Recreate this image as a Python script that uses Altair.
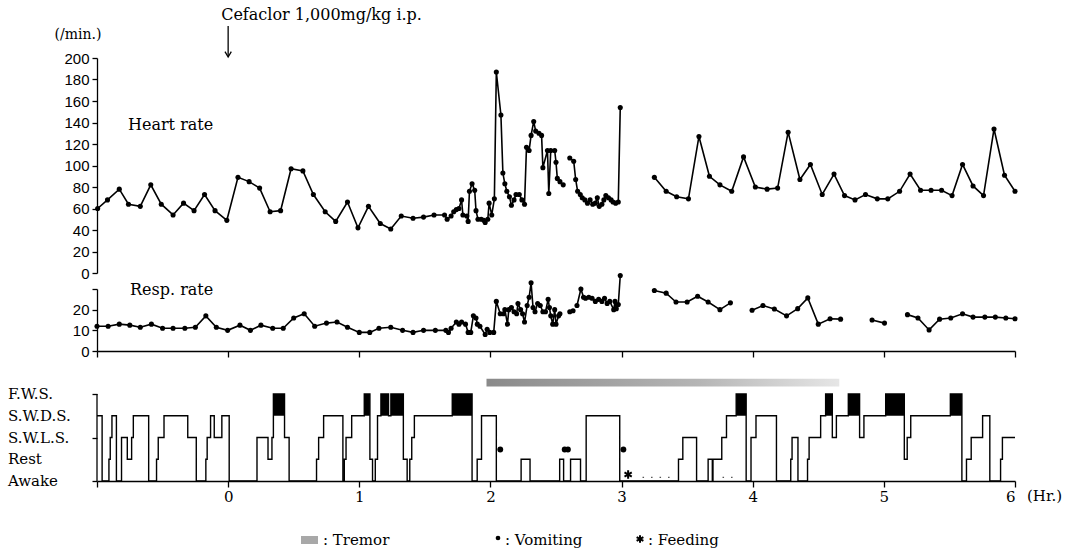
import altair as alt
import pandas as pd

SERIF = "DejaVu Serif"
SANS = "Liberation Sans"

# ---------------- data (hours after Cefaclor injection) ----------------
# Heart rate (/min.)
hr_t_1 = [-0.995, -0.92, -0.83, -0.76, -0.67, -0.59, -0.51, -0.42, -0.34, -0.26, -0.18, -0.10,
          -0.01, 0.075, 0.16, 0.24, 0.32, 0.40, 0.48, 0.57, 0.65, 0.74, 0.82, 0.91, 0.99, 1.07,
          1.16, 1.24, 1.32, 1.41, 1.49, 1.57, 1.65, 1.67, 1.70, 1.72, 1.74, 1.76, 1.78, 1.79,
          1.82, 1.83, 1.84, 1.86, 1.88, 1.89, 1.905, 1.93, 1.95, 1.96, 1.98, 1.99, 2.01, 2.03,
          2.045, 2.08, 2.095, 2.11, 2.125, 2.145, 2.16, 2.18, 2.195, 2.22, 2.24, 2.26, 2.275,
          2.295, 2.31, 2.33, 2.345, 2.37, 2.39, 2.40, 2.435, 2.445, 2.46, 2.49, 2.50, 2.51,
          2.53, 2.555]
hr_v_1 = [60, 68, 78, 64, 62, 82, 64, 54, 65, 58, 73, 58,
          49, 89, 85, 79, 57, 58, 97, 95, 73, 57, 48, 66, 42, 62,
          46, 41, 53, 51, 52, 54, 54, 50, 53, 57, 59, 60, 68, 54,
          53, 48, 76, 83, 77, 58, 50, 50, 49, 47, 50, 65, 54, 69,
          187, 147, 93, 83, 76, 71, 63, 68, 73, 73, 68, 64, 117,
          114, 128, 141, 132, 130, 128, 98, 114, 74, 114, 114, 103, 88,
          85, 82]
hr_t_2 = [2.605, 2.635, 2.65, 2.665, 2.685, 2.70, 2.72, 2.74, 2.76, 2.78, 2.80, 2.815,
          2.83, 2.85, 2.865, 2.88, 2.90, 2.92, 2.935, 2.955, 2.975, 2.99]
hr_v_2 = [107, 104, 87, 76, 73, 70, 68, 65, 68, 64, 65, 70,
          62, 64, 68, 72, 70, 68, 66, 65, 66, 154]
hr_t_3 = [3.25, 3.34, 3.42, 3.51, 3.59, 3.67, 3.75, 3.84, 3.93, 4.02, 4.11, 4.19, 4.27,
          4.36, 4.44, 4.53, 4.62, 4.70, 4.78, 4.86, 4.95, 5.03, 5.12, 5.20, 5.28, 5.36,
          5.44, 5.52, 5.60, 5.68, 5.76, 5.84, 5.92, 6.0]
hr_v_3 = [89, 76, 71, 69, 127, 90, 82, 76, 108, 80, 78, 79, 131,
          87, 101, 73, 92, 72, 68, 73, 69, 69, 76, 92, 77, 77,
          77, 72, 101, 81, 72, 134, 91, 76]

# Respiration rate (/min.)
rr_t_1 = [-1.0, -0.915, -0.83, -0.75, -0.67, -0.585, -0.50, -0.42, -0.33, -0.25, -0.17, -0.09,
          -0.004, 0.09, 0.17, 0.25, 0.34, 0.42, 0.50, 0.58, 0.66, 0.75, 0.83, 0.91, 1.0, 1.08,
          1.15, 1.24, 1.33, 1.41, 1.49, 1.58, 1.66, 1.68, 1.70, 1.74, 1.76, 1.78, 1.81, 1.83,
          1.85, 1.87, 1.89, 1.90, 1.92, 1.96, 1.975, 1.995, 2.025, 2.045, 2.075, 2.10, 2.11,
          2.13, 2.14, 2.16, 2.18, 2.20, 2.21, 2.23, 2.245, 2.26, 2.28, 2.295, 2.31, 2.325,
          2.34, 2.36, 2.38, 2.40, 2.42, 2.44, 2.45, 2.46, 2.475, 2.49, 2.50, 2.52, 2.53]
rr_v_1 = [12, 12, 13, 12.5, 11.5, 13, 11, 11, 11, 11.5, 17, 11.5,
          10, 12.5, 10, 12.5, 11, 11, 16, 18, 12, 13.5, 14, 11.5, 9, 9,
          11, 11.5, 10, 9, 10, 10, 10, 9, 11, 14, 13, 14, 13, 9,
          9, 17, 16, 13, 12, 8, 10.5, 9, 9, 24, 18, 18, 20,
          13, 20, 21, 19, 18, 23, 20, 18, 14, 22, 26, 33, 21,
          19, 23, 22, 19, 19, 25, 21, 17, 13, 20, 13, 17, 18]
rr_t_2 = [2.605, 2.63]
rr_v_2 = [19, 19.5]
rr_t_3 = [2.66, 2.69, 2.71, 2.725, 2.75, 2.775, 2.80, 2.825, 2.85, 2.87, 2.89, 2.91, 2.94,
          2.95, 2.96, 2.975, 2.99]
rr_v_3 = [22, 30, 26, 25.5, 26, 25.5, 24, 25, 24, 25.5, 23, 24, 20,
          24, 20.5, 22.5, 36.5]
rr_t_4 = [3.25, 3.34, 3.415, 3.50, 3.58, 3.66, 3.75, 3.83]
rr_v_4 = [29.3, 28, 23.7, 23.7, 26.5, 23.7, 20, 23.3]
rr_t_5 = [3.995, 4.078, 4.165, 4.258, 4.343, 4.42, 4.50, 4.59, 4.67]
rr_v_5 = [19.7, 22, 20.3, 17, 20.5, 25.7, 13, 15.6, 15.4]
rr_t_6 = [4.91, 5.005]
rr_v_6 = [15, 13.5]
rr_t_7 = [5.18, 5.26, 5.345, 5.425, 5.51, 5.60, 5.68, 5.77, 5.85, 5.93, 6.0]
rr_v_7 = [17.6, 16, 10.2, 15.4, 16, 18, 16.4, 16.4, 16.4, 16, 15.6]

# Sleep-wake stage: 0 Awake, 1 Rest, 2 S.W.L.S., 3 S.W.D.S., 4 F.W.S.
stage_names = ["Awake", "Rest", "S.W.L.S.", "S.W.D.S.", "F.W.S."]
stage_levels = [0, 1, 2, 3, 4]
stage_t = [-1.0, -0.961, -0.909, -0.899, -0.886, -0.852, -0.813, -0.769, -0.736, -0.723,
           -0.606, -0.546, -0.533, -0.489, -0.308, -0.243, -0.170, -0.160, -0.134, -0.106,
           -0.048, 0.008, 0.220, 0.304, 0.334, 0.345, 0.430, 0.465, 0.674, 0.690,
           0.728, 0.875, 0.886, 0.899, 0.942, 1.038, 1.081, 1.101, 1.122, 1.139,
           1.165, 1.223, 1.241, 1.336, 1.365, 1.385, 1.400, 1.420, 1.709, 1.860,
           1.899, 1.932, 2.045, 2.234, 2.302, 2.528, 2.558, 2.611, 2.687, 2.730,
           2.986, 3.434, 3.467, 3.572, 3.660, 3.692, 3.697, 3.764, 3.800, 3.874,
           3.950, 3.987, 4.025, 4.181, 4.290, 4.300, 4.345, 4.418, 4.430, 4.518,
           4.556, 4.607, 4.638, 4.729, 4.815, 4.848, 5.014, 5.156, 5.178, 5.205,
           5.507, 5.595, 5.630, 5.666, 5.753, 5.808, 5.890, 5.904, 6.0]
stage_lv = [3, 0, 1, 2, 3, 0, 2, 1, 2, 3,
            0, 1, 2, 3, 2, 0, 1, 2, 3, 2,
            3, 0, 2, 1, 2, 4, 2, 0, 1, 2,
            3, 0, 1, 2, 3, 4, 1, 0, 1, 3,
            4, 3, 4, 1, 0, 1, 2, 3, 4, 0,
            1, 3, 0, 1, 0, 1, 0, 1, 0, 3,
            0, 1, 2, 0, 1, 0, 1, 2, 3, 4,
            0, 2, 3, 0, 1, 2, 0, 1, 2, 3,
            4, 2, 3, 4, 2, 3, 4, 1, 2, 3,
            4, 0, 1, 2, 3, 0, 1, 2, 2]

vomit_t = [2.075, 2.566, 2.591, 3.014]
vomit_lv = [1.45, 1.45, 1.45, 1.45]
feed_t = [3.05]
feed_lv = [0.3]
feed_dot_start = [3.16, 3.77]
feed_dot_end = [3.40, 3.89]
tremor_start = [1.97]
tremor_end = [4.66]

# ---------------- frames ----------------
def segments(parts):
    rows = []
    for i, (ts, vs) in enumerate(parts):
        for t, v in zip(ts, vs):
            rows.append({"t": t, "v": v, "seg": i})
    return pd.DataFrame(rows)

hr_df = segments([(hr_t_1, hr_v_1), (hr_t_2, hr_v_2), (hr_t_3, hr_v_3)])
rr_df = segments([(rr_t_1, rr_v_1), (rr_t_2, rr_v_2), (rr_t_3, rr_v_3), (rr_t_4, rr_v_4),
                  (rr_t_5, rr_v_5), (rr_t_6, rr_v_6), (rr_t_7, rr_v_7)])
st_df = pd.DataFrame({"t": stage_t, "lv": stage_lv})
names_df = pd.DataFrame({"lv": stage_levels, "name": stage_names})
fws_df = pd.DataFrame([{"s": stage_t[i], "e": stage_t[i + 1]}
                       for i in range(len(stage_t) - 1) if stage_lv[i] == 4])
vom_df = pd.DataFrame({"t": vomit_t, "lv": vomit_lv})
feed_df = pd.DataFrame({"t": feed_t, "lv": feed_lv})
fdot_df = pd.DataFrame({"s": feed_dot_start, "e": feed_dot_end})
trem_df = pd.DataFrame({"s": tremor_start, "e": tremor_end})

W = 918
H_HR, H_RR, H_ST = 215, 62, 114
ST_MAX = H_ST / 21.75
X_SCALE = alt.Scale(domain=[-1, 6], nice=False, zero=False)
ASTERISK = "M0,-1L0,1M-0.87,-0.5L0.87,0.5M-0.87,0.5L0.87,-0.5"
TREMOR_FILL = alt.LinearGradient(
    gradient="linear", x1=0, x2=1, y1=0, y2=0,
    stops=[alt.GradientStop(color="#8a8a8a", offset=0),
           alt.GradientStop(color="#b5b5b5", offset=0.6),
           alt.GradientStop(color="#e6e6e6", offset=1)])

one = pd.DataFrame({"k": [0]})

def y_axis(values, **kw):
    base = dict(title=None, values=values, tickSize=5, tickColor="black", domainColor="black",
                labelColor="black", labelFont=SANS, labelFontSize=15, labelPadding=3,
                domainWidth=1.3, tickWidth=1.3, grid=False, labelOverlap=False)
    base.update(kw)
    return alt.Axis(**base)

# ---------------- heart rate panel ----------------
hr_base = alt.Chart(hr_df).encode(
    x=alt.X("t:Q", scale=X_SCALE, axis=None),
    y=alt.Y("v:Q", scale=alt.Scale(domain=[0, 200], nice=False),
            axis=y_axis(list(range(0, 201, 20)))))
hr_line = hr_base.mark_line(color="black", strokeWidth=1.6).encode(detail="seg:N")
hr_pts = hr_base.mark_circle(color="black", size=26, opacity=1)

title_txt = alt.Chart(one).mark_text(text="Cefaclor 1,000mg/kg i.p.", font=SERIF, fontSize=16,
                                     align="left", baseline="middle", dx=-7).encode(
    x=alt.X(datum=0, scale=X_SCALE), y=alt.value(-43))
arrow_shaft = alt.Chart(one).mark_rule(color="black", strokeWidth=1.3).encode(
    x=alt.X(datum=0, scale=X_SCALE), y=alt.value(-32), y2=alt.value(-2))
arrow_head = alt.Chart(one).mark_point(shape="M-1,-1.7L0,0L1,-1.7", filled=False, color="black",
                                       strokeWidth=1.3, size=40, opacity=1).encode(
    x=alt.X(datum=0, scale=X_SCALE), y=alt.value(-1))
unit_txt = alt.Chart(one).mark_text(text="(/min.)", font=SERIF, fontSize=14, align="center",
                                    baseline="middle").encode(x=alt.value(-19), y=alt.value(-23))
hr_lab = alt.Chart(one).mark_text(text="Heart rate", font=SERIF, fontSize=16, align="left",
                                  baseline="middle").encode(x=alt.value(31), y=alt.value(67))

heart = alt.layer(hr_line, hr_pts, title_txt, arrow_shaft, arrow_head, unit_txt, hr_lab).properties(
    width=W, height=H_HR)

# ---------------- respiration panel ----------------
rr_base = alt.Chart(rr_df).encode(
    x=alt.X("t:Q", scale=X_SCALE,
            axis=alt.Axis(title=None, values=list(range(-1, 7)), labels=False, tickSize=6,
                          tickColor="black", domainColor="black", domainWidth=1.3,
                          tickWidth=1.3, grid=False)),
    y=alt.Y("v:Q", scale=alt.Scale(domain=[0, 30], nice=False),
            axis=y_axis([0, 10, 20, 30], labelExpr="datum.value == 30 ? '' : datum.label")))
rr_line = rr_base.mark_line(color="black", strokeWidth=1.6).encode(detail="seg:N")
rr_pts = rr_base.mark_circle(color="black", size=26, opacity=1)
rr_lab = alt.Chart(one).mark_text(text="Resp. rate", font=SERIF, fontSize=16, align="left",
                                  baseline="middle").encode(x=alt.value(33), y=alt.value(1))
resp = alt.layer(rr_line, rr_pts, rr_lab).properties(width=W, height=H_RR)

# ---------------- sleep stage panel ----------------
ST_SCALE = alt.Scale(domain=[0, ST_MAX], nice=False, zero=True)
st_line = alt.Chart(st_df).mark_line(interpolate="step-after", color="black",
                                     strokeWidth=1.4).encode(
    x=alt.X("t:Q", scale=X_SCALE,
            axis=alt.Axis(title=None, values=list(range(-1, 7)), tickSize=6, tickColor="black",
                          domainColor="black", domainWidth=1.3, tickWidth=1.3,
                          labelColor="black", labelFont=SERIF, labelFontSize=15,
                          labelPadding=2, grid=False, labelOverlap=False,
                          labelExpr="datum.value < 0 ? '' : format(datum.value, 'd')")),
    y=alt.Y("lv:Q", scale=ST_SCALE,
            axis=alt.Axis(title=None, values=stage_levels, tickSize=5, tickColor="black",
                          tickWidth=1.3, domain=False, grid=False, labels=False)))
st_names = alt.Chart(names_df).mark_text(font=SERIF, fontSize=15, align="left",
                                         baseline="middle", color="black").encode(
    x=alt.value(-89), y=alt.Y("lv:Q", scale=ST_SCALE), text="name:N")
st_axis = alt.Chart(one).mark_rule(color="black", strokeWidth=1.3).encode(
    x=alt.value(0), y=alt.Y(datum=0, scale=ST_SCALE), y2=alt.Y2(datum=4))
fws = alt.Chart(fws_df).mark_rect(color="black").encode(
    x=alt.X("s:Q", scale=X_SCALE), x2="e:Q",
    y=alt.Y(datum=3, scale=ST_SCALE), y2=alt.Y2(datum=4))
trem = alt.Chart(trem_df).mark_rect(color=TREMOR_FILL).encode(
    x=alt.X("s:Q", scale=X_SCALE), x2="e:Q",
    y=alt.Y(datum=4.35, scale=ST_SCALE), y2=alt.Y2(datum=4.7))
vom = alt.Chart(vom_df).mark_circle(color="black", size=34, opacity=1).encode(
    x=alt.X("t:Q", scale=X_SCALE), y=alt.Y("lv:Q", scale=ST_SCALE))
feed = alt.Chart(feed_df).mark_point(shape=ASTERISK, color="black", strokeWidth=2, size=70,
                                     opacity=1).encode(
    x=alt.X("t:Q", scale=X_SCALE), y=alt.Y("lv:Q", scale=ST_SCALE))
fdots = alt.Chart(fdot_df).mark_rule(color="#555", strokeWidth=1.2, strokeDash=[1.5, 7]).encode(
    x=alt.X("s:Q", scale=X_SCALE), x2="e:Q", y=alt.Y(datum=0.17, scale=ST_SCALE))
hr_unit = alt.Chart(one).mark_text(text="(Hr.)", font=SERIF, fontSize=15, align="left",
                                   baseline="middle", dx=12).encode(
    x=alt.X(datum=6, scale=X_SCALE), y=alt.value(H_ST + 15))

LEG_Y = 173
leg_trem = alt.Chart(one).mark_rect(color="#a8a8a8").encode(
    x=alt.value(204), x2=alt.value(221), y=alt.value(LEG_Y - 4), y2=alt.value(LEG_Y + 4))
leg_trem_t = alt.Chart(one).mark_text(text=": Tremor", font=SERIF, fontSize=15, align="left",
                                      baseline="middle").encode(x=alt.value(226), y=alt.value(LEG_Y))
leg_vom = alt.Chart(one).mark_circle(color="black", size=22, opacity=1).encode(
    x=alt.value(401), y=alt.value(LEG_Y - 2))
leg_vom_t = alt.Chart(one).mark_text(text=": Vomiting", font=SERIF, fontSize=15, align="left",
                                     baseline="middle").encode(x=alt.value(408), y=alt.value(LEG_Y))
leg_feed = alt.Chart(one).mark_point(shape=ASTERISK, color="black", strokeWidth=2, size=60,
                                     opacity=1).encode(x=alt.value(543), y=alt.value(LEG_Y - 1))
leg_feed_t = alt.Chart(one).mark_text(text=": Feeding", font=SERIF, fontSize=15, align="left",
                                      baseline="middle").encode(x=alt.value(551), y=alt.value(LEG_Y))

stage = alt.layer(trem, fws, st_line, st_names, st_axis, vom, feed, fdots, hr_unit,
                  leg_trem, leg_trem_t, leg_vom, leg_vom_t, leg_feed, leg_feed_t).properties(
    width=W, height=H_ST)

chart = alt.vconcat(heart, resp, stage, spacing=16, bounds="flush").properties(
    padding={"left": 8, "top": 7, "right": 5, "bottom": 5}
).configure_view(stroke=None).configure_axis(grid=False)

chart.save("out.html", embed_options={"renderer": "svg", "actions": False})
